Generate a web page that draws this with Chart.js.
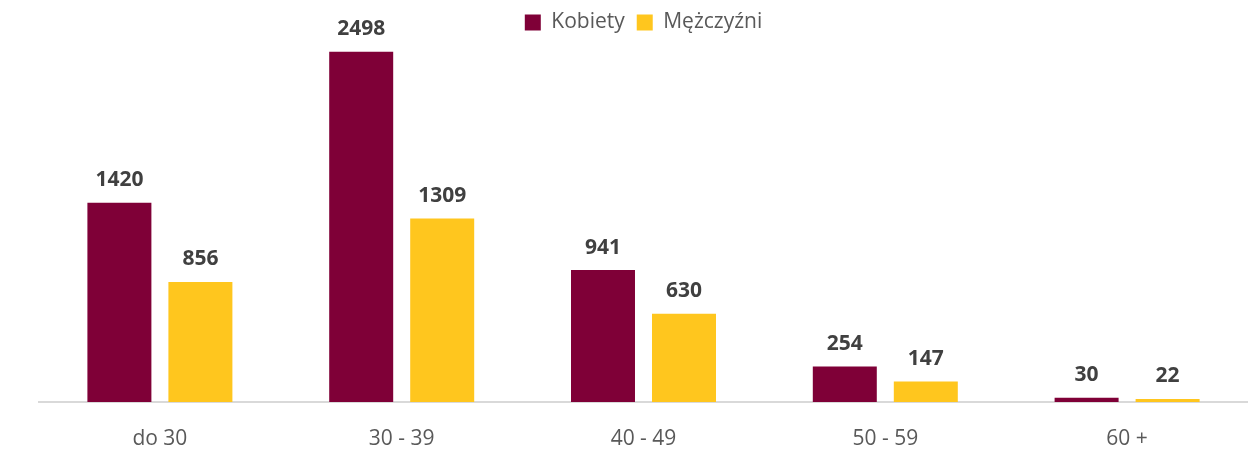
<!DOCTYPE html>
<html>
<head>
<meta charset="utf-8">
<script src="https://cdn.jsdelivr.net/npm/chart.js@4/dist/chart.umd.min.js"></script>
<style>
  html, body { margin: 0; padding: 0; background: #fff; }
  #wrap { width: 1248px; height: 452px; }
</style>
</head>
<body>
<div id="wrap"><canvas id="wykres"></canvas></div>
<script>
const kategorie = ["do 30", "30 - 39", "40 - 49", "50 - 59", "60 +"];
const kobiety = [1420, 2498, 941, 254, 30];
const mezczyzni = [856, 1309, 630, 147, 22];

// etykiety wartosci nad slupkami
const etykiety = {
  id: "etykiety",
  afterDatasetsDraw(chart) {
    const ctx = chart.ctx;
    ctx.save();
    ctx.font = "bold 21px 'Open Sans', sans-serif";
    ctx.fillStyle = "#404040";
    ctx.textAlign = "center";
    ctx.textBaseline = "bottom";
    chart.data.datasets.forEach((ds, i) => {
      chart.getDatasetMeta(i).data.forEach((bar, j) => {
        ctx.fillText(ds.data[j], bar.x, bar.y - 12);
      });
    });
    ctx.restore();
  }
};

new Chart(document.getElementById("wykres"), {
  type: "bar",
  data: {
    labels: kategorie,
    datasets: [
      { label: "Kobiety", data: kobiety, backgroundColor: "#7F0037" },
      { label: "Mężczyźni", data: mezczyzni, backgroundColor: "#FFC61E" }
    ]
  },
  options: {
    responsive: true,
    maintainAspectRatio: false,
    animation: false,
    layout: { padding: { left: 39, right: 0, top: 0, bottom: 0 } },
    datasets: {
      bar: { categoryPercentage: 0.67, barPercentage: 0.79 }
    },
    plugins: {
      legend: {
        position: "top",
        labels: {
          boxWidth: 16,
          boxHeight: 16,
          padding: 12,
          color: "#595959",
          font: { family: "'Open Sans', sans-serif", size: 21 }
        }
      },
      tooltip: { enabled: false }
    },
    scales: {
      x: {
        grid: { display: false, drawTicks: false },
        border: { display: true, color: "#D9D9D9", width: 2 },
        ticks: {
          padding: 24,
          color: "#595959",
          font: { family: "'Open Sans', sans-serif", size: 21 }
        },
        afterFit(scale) { scale.height = 50; }
      },
      y: {
        display: false,
        beginAtZero: true,
        max: 2560
      }
    }
  },
  plugins: [etykiety]
});
</script>
</body>
</html>
